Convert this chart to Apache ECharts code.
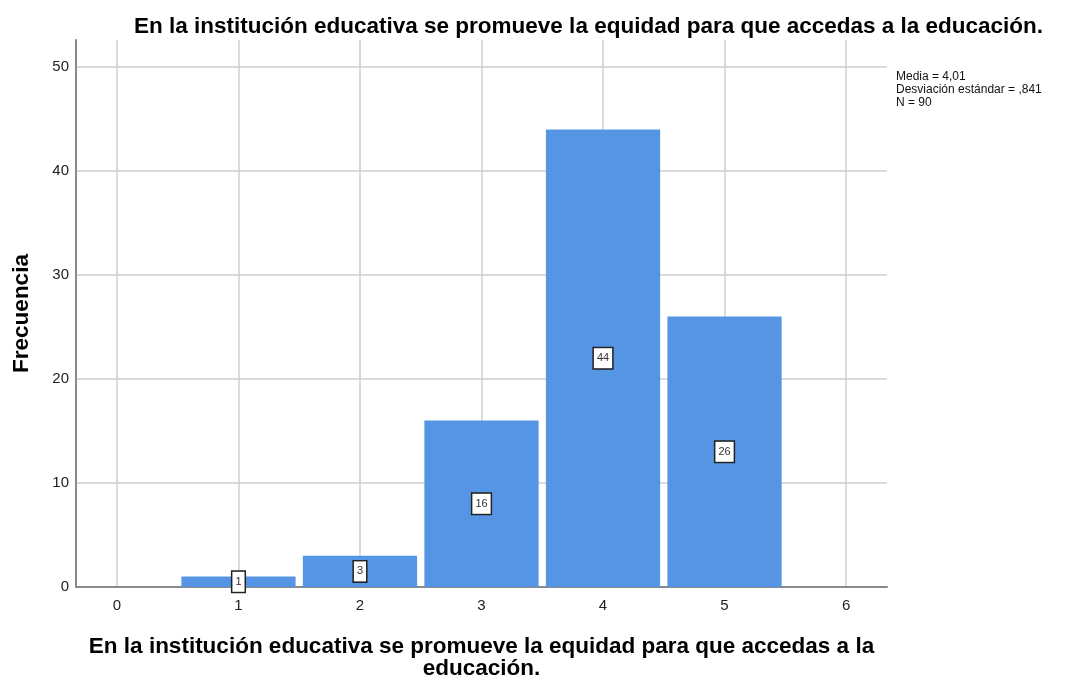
<!DOCTYPE html>
<html>
<head>
<meta charset="utf-8">
<script src="https://cdn.jsdelivr.net/npm/echarts@6/dist/echarts.min.js"></script>
<style>html,body{margin:0;padding:0;background:#fff}#c{width:1088px;height:682px}</style>
</head>
<body>
<div id="c"></div>
<script>
const titleText = 'En la institución educativa se promueve la equidad para que accedas a la educación.';
const xAxisName = 'En la institución educativa se promueve la equidad para que accedas a la\neducación.';
const yAxisName = 'Frecuencia';
const categories = [0, 1, 2, 3, 4, 5, 6];
const frequencies = [0, 1, 3, 16, 44, 26, 0];
const xTicks = [0, 1, 2, 3, 4, 5, 6];
const yTicks = [0, 10, 20, 30, 40, 50];
const statsLines = ['Media = 4,01', 'Desviación estándar = ,841', 'N = 90'];

const FONT = 'Liberation Sans, Arial, sans-serif';
const chart = echarts.init(document.getElementById('c'));
const data = categories.map((c, i) => [c, frequencies[i]]);

chart.setOption({
  animation: false,
  title: {
    text: titleText, left: 129, top: 10,
    textStyle: {fontFamily: FONT, fontSize: 22.5, fontWeight: 'bold', color: '#000'}
  },
  grid: {left: 76, right: 201, top: 40, bottom: 95, containLabel: false, outerBoundsMode: 'none'},
  xAxis: {
    type: 'value', min: -0.337, max: 6.337,
    name: xAxisName, nameLocation: 'middle', nameGap: 49,
    nameTextStyle: {fontFamily: FONT, fontSize: 22.5, fontWeight: 'bold', color: '#000', lineHeight: 22},
    axisLine: {show: true, onZero: false, lineStyle: {color: '#8a8a8a', width: 2}},
    axisTick: {show: false, customValues: xTicks},
    axisLabel: {customValues: xTicks, fontFamily: FONT, fontSize: 15, color: '#222', margin: 11},
    splitLine: {show: true, lineStyle: {color: '#cfcfcf', width: 1.5}}
  },
  yAxis: {
    type: 'value', min: 0, max: 52.6,
    name: yAxisName, nameLocation: 'middle', nameGap: 43, nameRotate: 90,
    nameTextStyle: {fontFamily: FONT, fontSize: 22.5, fontWeight: 'bold', color: '#000'},
    axisLine: {show: true, onZero: false, lineStyle: {color: '#8a8a8a', width: 2}},
    axisTick: {show: false, customValues: yTicks},
    axisLabel: {customValues: yTicks, fontFamily: FONT, fontSize: 15, color: '#222', margin: 7},
    splitLine: {show: true, lineStyle: {color: '#cfcfcf', width: 1.5}}
  },
  series: [{
    type: 'custom',
    data: data,
    encode: {x: 0, y: 1},
    renderItem: function (params, api) {
      const x = api.value(0), v = api.value(1);
      if (!v) return null;
      const p0 = api.coord([x - 0.47, v]);
      const p1 = api.coord([x + 0.47, 0]);
      return {
        type: 'rect',
        shape: {x: p0[0], y: p0[1], width: p1[0] - p0[0], height: p1[1] - p0[1]},
        style: {fill: '#5595e3'},
        textContent: {
          style: {
            text: String(v), fontFamily: FONT, fontSize: 11, lineHeight: 12, fill: '#333',
            backgroundColor: '#fff', borderColor: '#222', borderWidth: 1.5,
            padding: [4, 3, 4, 3]
          }
        },
        textConfig: {position: 'inside'}
      };
    }
  }],
  graphic: [{
    type: 'text', left: 896, top: 70,
    style: {text: statsLines.join('\n'), fontFamily: FONT, fontSize: 12, lineHeight: 13, fill: '#111'}
  }]
});
</script>
</body>
</html>
